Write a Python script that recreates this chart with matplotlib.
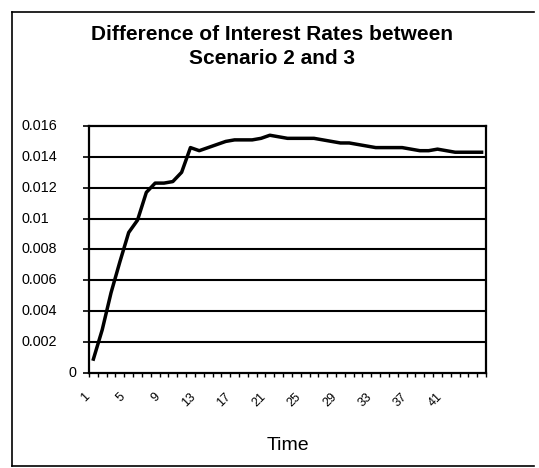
import numpy as np
import matplotlib
matplotlib.use('Agg')
import matplotlib.pyplot as plt
import matplotlib.transforms as mtransforms
from matplotlib.lines import Line2D

### Data
periods = list(range(1, 46))
rate_diff = [0.0009, 0.0028, 0.0052, 0.0072, 0.0091, 0.0099, 0.0117, 0.0123, 0.0123,
             0.0124, 0.0130, 0.0146, 0.0144, 0.0146, 0.0148, 0.0150, 0.0151, 0.0151,
             0.0151, 0.0152, 0.0154, 0.0153, 0.0152, 0.0152, 0.0152, 0.0152, 0.0151,
             0.0150, 0.0149, 0.0149, 0.0148, 0.0147, 0.0146, 0.0146, 0.0146, 0.0146,
             0.0145, 0.0144, 0.0144, 0.0145, 0.0144, 0.0143, 0.0143, 0.0143, 0.0143]
label_periods = [1, 5, 9, 13, 17, 21, 25, 29, 33, 37, 41]
y_ticks = [0, 0.002, 0.004, 0.006, 0.008, 0.01, 0.012, 0.014, 0.016]
y_ticklabels = ['0', '0.002', '0.004', '0.006', '0.008', '0.01', '0.012', '0.014', '0.016']

title = 'Difference of Interest Rates between\nScenario 2 and 3'
xlabel = 'Time'


def main():
    plt.rcParams['font.family'] = ['Liberation Sans', 'DejaVu Sans']

    fig = plt.figure(figsize=(5.39, 4.68), dpi=100)
    fig.patch.set_facecolor('white')
    ax = fig.add_axes([0.1651, 0.2030, 0.7366, 0.5278])

    ### Line
    ax.plot(periods, rate_diff, c='k', lw=2.5, solid_joinstyle='round', zorder=3)

    ### Axes limits: category axis, ticks between categories
    ax.set_xlim(0.5, len(periods) + 0.5)
    ax.set_ylim(0, 0.016)

    ### Gridlines
    for yv in y_ticks[1:-1]:
        ax.axhline(yv, c='k', lw=1.5, zorder=1)

    ### Y axis: labels written by hand (left aligned in the scan, "0" sits near the axis)
    ax.set_yticks(y_ticks)
    ax.set_yticklabels([])
    ax.tick_params(axis='y', direction='out', length=4, width=1.2)
    ytrans = ax.get_yaxis_transform()
    for yv, lab in zip(y_ticks, y_ticklabels):
        if yv == 0:
            ax.text(-0.032, yv, lab, transform=ytrans, ha='right', va='center', fontsize=10.4)
        else:
            ax.text(-0.169, yv, lab, transform=ytrans, ha='left', va='center', fontsize=10.4)

    ### X axis: minor ticks at category boundaries, labels every 4th category
    ax.set_xticks(np.arange(0.5, len(periods) + 1, 1.0), minor=True)
    ax.set_xticks([])
    ax.tick_params(axis='x', which='minor', direction='out', length=3, width=1.0)
    xtrans = ax.get_xaxis_transform() + mtransforms.ScaledTranslation(-10/100, -18/100, fig.dpi_scale_trans)
    for p in label_periods:
        ax.text(p, 0, str(p), transform=xtrans, fontsize=9, rotation=45,
                ha='right', va='top', rotation_mode='anchor')

    for sp in ax.spines.values():
        sp.set_linewidth(1.6)
        sp.set_color('k')

    ax.set_xlabel(xlabel, fontsize=14, labelpad=40)

    ### Title
    fig.text(0.505, 1-25/468, title, ha='center', va='top', fontsize=15,
             fontweight='bold', linespacing=1.3)

    ### Chart-area frame (top, left, bottom)
    fig.add_artist(Line2D([12/539, 12/539], [1-12/468, 1-466/468],
                          transform=fig.transFigure, c='k', lw=1.2))
    fig.add_artist(Line2D([12/539, 0.99], [1-12/468, 1-12/468],
                          transform=fig.transFigure, c='k', lw=1.2))
    fig.add_artist(Line2D([12/539, 0.99], [1-466/468, 1-466/468],
                          transform=fig.transFigure, c='k', lw=1.2))

    fig.savefig('out.png', dpi=100)


if __name__ == "__main__":
    main()
